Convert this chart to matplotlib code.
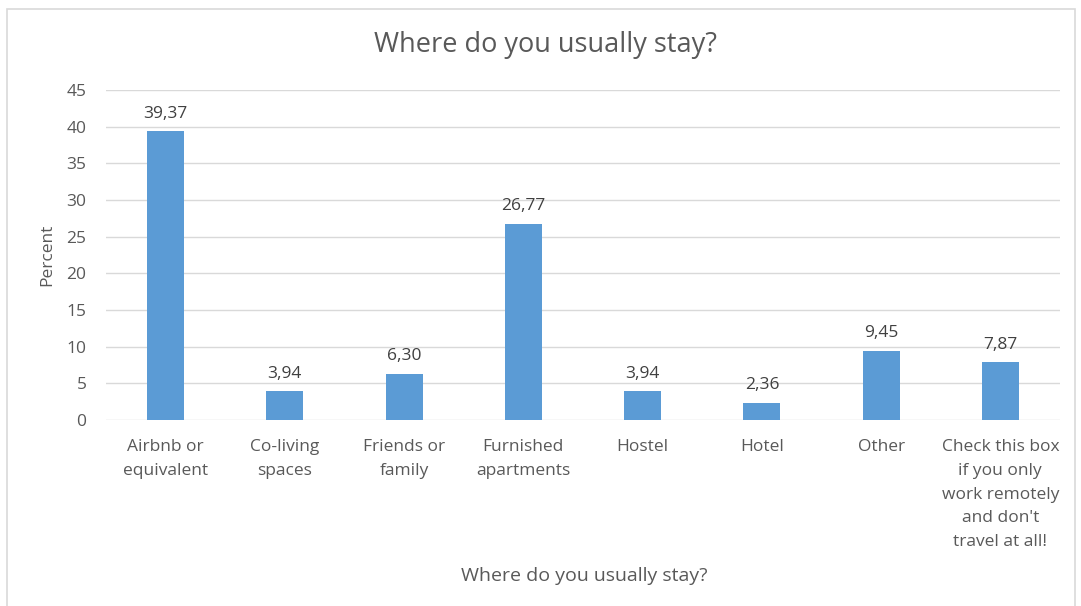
import matplotlib.pyplot as plt
from matplotlib.patches import Rectangle
import numpy as np

categories = ["Airbnb or\nequivalent", "Co-living\nspaces", "Friends or\nfamily",
              "Furnished\napartments", "Hostel", "Hotel", "Other",
              "Check this box\nif you only\nwork remotely\nand don't\ntravel at all!"]
percent = [39.37, 3.94, 6.30, 26.77, 3.94, 2.36, 9.45, 7.87]
yticks = [0, 5, 10, 15, 20, 25, 30, 35, 40, 45]

text_color = "#595959"
grid_color = "#D9D9D9"
bar_color = "#5B9BD5"

plt.rcParams['font.family'] = ['Open Sans', 'DejaVu Sans']

fig = plt.figure(figsize=(10.81, 6.06), dpi=100)
fig.patches.append(Rectangle((7 / 1081, -0.01), 1068 / 1081, 1 - 9 / 606 + 0.01,
                             transform=fig.transFigure, fill=False,
                             edgecolor=grid_color, linewidth=1.2))
ax = fig.add_axes([106 / 1081, 1 - 420 / 606, 954 / 1081, 330 / 606])

x = np.arange(len(categories))
ax.bar(x, percent, width=0.31, color=bar_color, zorder=3)
for xi, v in zip(x, percent):
    ax.text(xi, v + 1.3, f"{v:.2f}".replace(".", ","), ha="center", va="bottom",
            fontsize=12.5, color="#404040")

ax.set_xlim(-0.5, len(categories) - 0.5)
ax.set_ylim(0, 45)
ax.set_yticks(yticks)
ax.set_xticks(x)
ax.set_xticklabels(categories, fontsize=12.5, color=text_color, linespacing=1.63)
ax.tick_params(axis="y", labelsize=12.5, labelcolor=text_color, length=0, pad=14)
ax.tick_params(axis="x", length=0, pad=14)
ax.grid(axis="y", color=grid_color, linewidth=1, zorder=0)
for s in ax.spines.values():
    s.set_visible(False)

ax.set_ylabel("Percent", fontsize=12.5, color=text_color, labelpad=8)
fig.text(584 / 1081, 1 - 576 / 606, "Where do you usually stay?", ha="center", va="center",
         fontsize=14, color=text_color)
fig.text(545 / 1081, 1 - 45 / 606, "Where do you usually stay?", ha="center", va="center",
         fontsize=19.5, color=text_color)

fig.savefig("out.png", dpi=100)
